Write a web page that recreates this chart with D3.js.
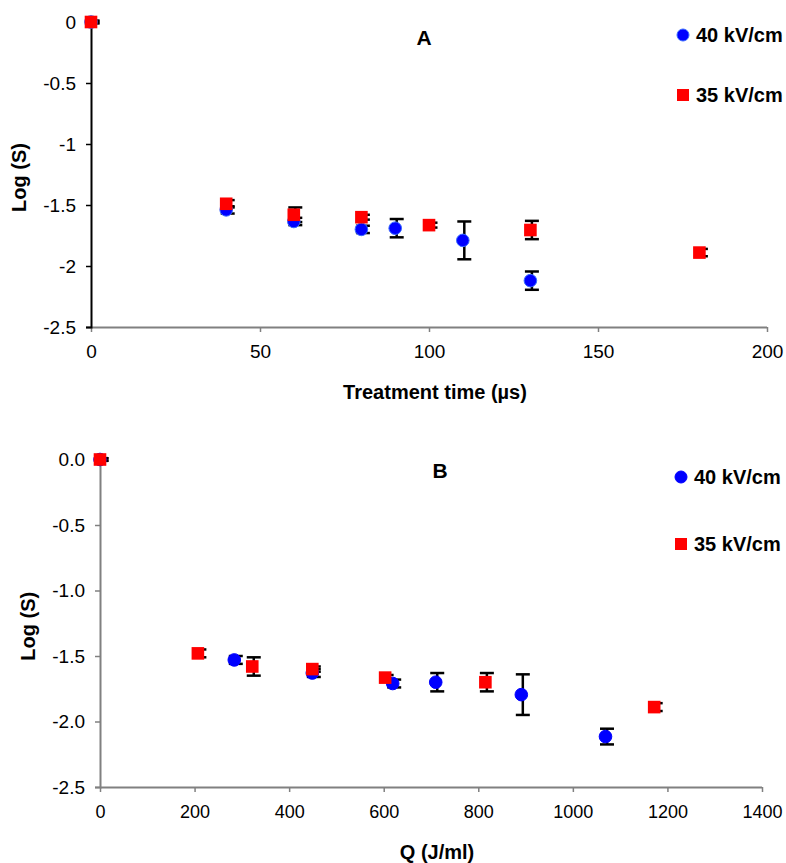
<!DOCTYPE html>
<html>
<head>
<meta charset="utf-8">
<script src="https://cdn.jsdelivr.net/npm/d3@7"></script>
<style>
  body { margin: 0; background: #fff; }
  text { font-family: "Liberation Sans", Arial, sans-serif; }
</style>
</head>
<body>
<script>
// Panel A: treatment time (µs)
const timeA40 = [0, 40, 60, 80, 90, 110, 130];
const logA40  = [0, -1.54, -1.635, -1.70, -1.69, -1.79, -2.12];
const errA40  = [0.01, 0.03, 0.03, 0.03, 0.075, 0.155, 0.075];
const timeA35 = [0, 40, 60, 80, 100, 130, 180];
const logA35  = [0, -1.49, -1.58, -1.60, -1.665, -1.705, -1.89];
const errA35  = [0.01, 0.03, 0.06, 0.02, 0.02, 0.075, 0.03];

// Panel B: specific energy Q (J/ml)
const qB40   = [0, 284, 449, 619, 710, 891, 1069];
const logB40 = [0, -1.53, -1.63, -1.71, -1.70, -1.795, -2.115];
const errB40 = [0.01, 0.03, 0.03, 0.03, 0.07, 0.155, 0.06];
const qB35   = [0, 207, 322, 449, 603, 815, 1172];
const logB35 = [0, -1.48, -1.58, -1.60, -1.665, -1.70, -1.89];
const errB35 = [0.01, 0.03, 0.07, 0.02, 0.02, 0.07, 0.03];

const yTicks = [0, -0.5, -1, -1.5, -2, -2.5];
const xTicksA = [0, 50, 100, 150, 200];
const xTicksB = [0, 200, 400, 600, 800, 1000, 1200, 1400];
const seriesNames = ["40 kV/cm", "35 kV/cm"];

const svg = d3.select('body').append('svg')
    .attr('width', 786)
    .attr('height', 863);

function zip(xs, ys, es) {
    return xs.map((x, i) => ({x: x, y: ys[i], e: es[i]}));
}

function drawPanel(p) {
    const x = d3.scaleLinear().domain(p.xDomain).range([p.left, p.right]);
    const y = d3.scaleLinear().domain([-2.5, 0]).range([p.bottom, p.top]);

    // axes
    const gx = svg.append('g')
        .attr('transform', `translate(0, ${p.bottom})`)
        .call(d3.axisBottom(x).tickValues(p.xTicks).tickSize(5).tickPadding(13).tickFormat(d => String(d)));
    const gy = svg.append('g')
        .attr('transform', `translate(${p.left}, 0)`)
        .call(d3.axisLeft(y).tickValues(yTicks).tickSize(5).tickPadding(10).tickFormat(p.yFormat));

    gx.select('.domain').attr('stroke', '#808080').attr('stroke-width', 2)
        .attr('d', `M${p.left},0.5H${p.right}`);
    gx.selectAll('.tick line').attr('stroke', '#808080').attr('stroke-width', 1.5);
    gy.select('.domain').attr('stroke', p.yAxisColor).attr('stroke-width', 2);
    gy.selectAll('.tick line').attr('stroke', p.yAxisColor).attr('stroke-width', 1.5);
    gx.selectAll('text').attr('fill', '#000').style('font-size', p.xTickSize)
        .style('font-family', '"Liberation Sans", Arial, sans-serif');
    gy.selectAll('text').attr('fill', '#000').style('font-size', '19px')
        .style('font-family', '"Liberation Sans", Arial, sans-serif');

    // axis titles
    svg.append('text')
        .attr('x', (p.left + p.right) / 2 + 6)
        .attr('y', p.xTitleY)
        .attr('text-anchor', 'middle')
        .style('font-size', '20px').style('font-weight', 'bold')
        .text(p.xTitle);
    svg.append('text')
        .attr('transform', `translate(${p.yTitleX}, ${(p.top + p.bottom) / 2 + 3}) rotate(-90)`)
        .attr('text-anchor', 'middle')
        .style('font-size', '20px').style('font-weight', 'bold')
        .text('Log (S)');

    // panel letter
    svg.append('text')
        .attr('x', p.letterX).attr('y', p.letterY)
        .attr('text-anchor', 'middle')
        .style('font-size', '21px').style('font-weight', 'bold')
        .text(p.letter);

    const s40 = zip(p.x40, p.y40, p.e40);
    const s35 = zip(p.x35, p.y35, p.e35);

    // error bars
    const capW = 7;
    [s40, s35].forEach(series => {
        const g = svg.append('g').attr('stroke', '#000').attr('stroke-width', 2.5);
        series.forEach(d => {
            const cx = x(d.x) + 1.5;
            g.append('line').attr('x1', cx).attr('x2', cx)
                .attr('y1', y(d.y + d.e)).attr('y2', y(d.y - d.e));
            g.append('line').attr('x1', cx - capW).attr('x2', cx + capW)
                .attr('y1', y(d.y + d.e)).attr('y2', y(d.y + d.e));
            g.append('line').attr('x1', cx - capW).attr('x2', cx + capW)
                .attr('y1', y(d.y - d.e)).attr('y2', y(d.y - d.e));
        });
    });

    // markers
    svg.append('g').selectAll('circle')
        .data(s40)
        .enter()
        .append('circle')
        .attr('cx', d => x(d.x))
        .attr('cy', d => y(d.y))
        .attr('r', 6.3)
        .attr('fill', '#0000ff')
        .attr('stroke', p.circleStroke)
        .attr('stroke-width', 1);
    svg.append('g').selectAll('rect')
        .data(s35)
        .enter()
        .append('rect')
        .attr('x', d => x(d.x) - 6.3)
        .attr('y', d => y(d.y) - 6.3)
        .attr('width', 12.6)
        .attr('height', 12.6)
        .attr('fill', '#ff0000');

    // legend
    const lg = svg.append('g');
    lg.append('circle').attr('cx', p.legX).attr('cy', p.legY[0]).attr('r', 6)
        .attr('fill', '#0000ff').attr('stroke', p.circleStroke);
    lg.append('rect').attr('x', p.legX - 6).attr('y', p.legY[1] - 6)
        .attr('width', 12).attr('height', 12).attr('fill', '#ff0000');
    seriesNames.forEach((name, i) => {
        lg.append('text')
            .attr('x', p.legX + 13).attr('y', p.legY[i] + 7)
            .style('font-size', '20px').style('font-weight', 'bold')
            .text(name);
    });
}

drawPanel({
    letter: 'A', letterX: 424, letterY: 45,
    xDomain: [0, 200], xTicks: xTicksA, xTickSize: '19px',
    left: 91, right: 767, top: 22, bottom: 327,
    yFormat: d => String(d), yAxisColor: '#000',
    xTitle: 'Treatment time (µs)', xTitleY: 399, yTitleX: 26,
    x40: timeA40, y40: logA40, e40: errA40,
    x35: timeA35, y35: logA35, e35: errA35,
    circleStroke: '#3a6bff',
    legX: 683, legY: [35, 95]
});

drawPanel({
    letter: 'B', letterX: 440, letterY: 478,
    xDomain: [0, 1400], xTicks: xTicksB, xTickSize: '18px',
    left: 100, right: 762, top: 459.5, bottom: 787,
    yFormat: d => d.toFixed(1), yAxisColor: '#808080',
    xTitle: 'Q (J/ml)', xTitleY: 859, yTitleX: 35,
    x40: qB40, y40: logB40, e40: errB40,
    x35: qB35, y35: logB35, e35: errB35,
    circleStroke: '#0000ff',
    legX: 681, legY: [477, 544]
});
</script>
</body>
</html>
